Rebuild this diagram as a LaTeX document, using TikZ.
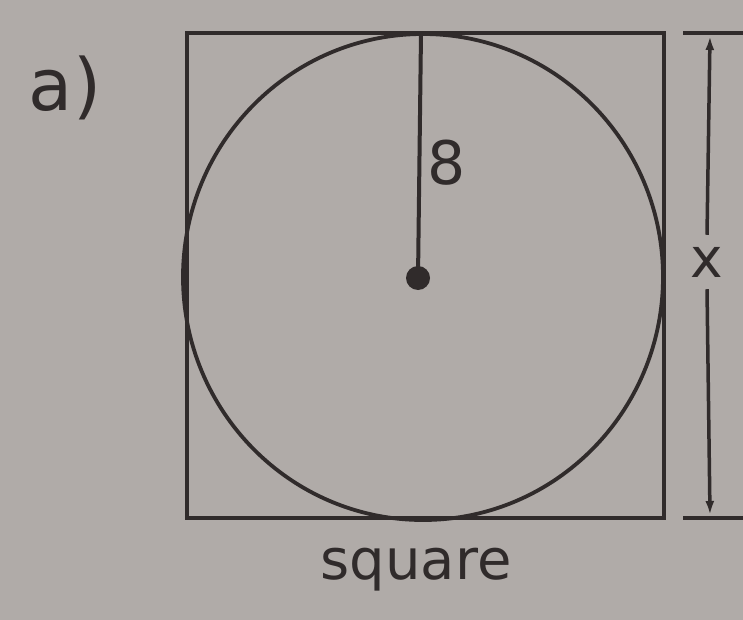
\documentclass[tikz,border=0pt]{standalone}
\usepackage{fontspec}
\setmainfont{DejaVu Sans}
\usetikzlibrary{arrows.meta}
\definecolor{paper}{RGB}{176,171,168}
\definecolor{ink}{RGB}{48,43,43}
\tikzset{
  ln/.style={draw=ink, line width=4.5pt},
  lbl/.style={text=ink, inner sep=0pt},
}
\begin{document}
\begin{tikzpicture}[x=1pt,y=-1pt]
\fill[paper] (0,0) rectangle (743,620);
\useasboundingbox (0,0) rectangle (743,620);
% square
\draw[ln] (187,33) rectangle (664,518);
% circle
\draw[ln, line width=3.8pt] (423,277) ellipse [x radius=240, y radius=243];
% centre and radius
\node[circle, fill=ink, minimum size=24pt, inner sep=0pt] (c) at (418,278) {};
\coordinate (t) at (421,33);
\draw[ln, line width=4pt] (t) -- (c.center);
\node[lbl, font=\fontsize{60}{60}\selectfont] (r) at (447,163) {8};
% dimension
\coordinate (et1) at (683,33);
\coordinate (et2) at (743,33);
\coordinate (eb1) at (683,518);
\coordinate (eb2) at (743,518);
\draw[ln] (et1) -- (et2);
\draw[ln] (eb1) -- (eb2);
\node[lbl, font=\fontsize{55}{55}\selectfont] (x) at (707,262) {x};
\coordinate (dt) at (710,36);
\coordinate (db) at (710,515);
\draw[ln, line width=3.5pt, -{Latex[length=14pt,width=9pt]}] (x.north) ++(0,-12) -- (dt);
\draw[ln, line width=3.5pt, -{Latex[length=14pt,width=9pt]}] (x.south) ++(0,12) -- (db);
% labels
\node[lbl, font=\fontsize{72}{72}\selectfont] (a) at (65,88) {a)};
\node[lbl, font=\fontsize{56}{56}\selectfont] (s) at (416,570) {square};
\end{tikzpicture}
\end{document}
